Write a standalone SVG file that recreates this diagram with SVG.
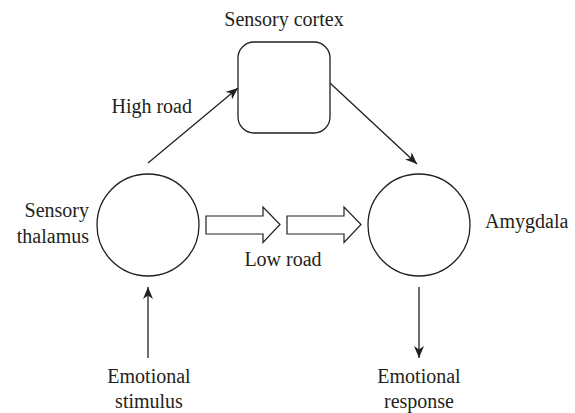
<svg xmlns="http://www.w3.org/2000/svg" width="575" height="413" viewBox="0 0 575 413">
<defs>
<marker id="ah" viewBox="0 0 12 10" refX="12" refY="5" markerWidth="12" markerHeight="10" markerUnits="userSpaceOnUse" orient="auto">
<path d="M0,0 L12,5 L0,10 L3.5,5 Z" fill="#231f20"/>
</marker>
</defs>
<style>
.n{fill:#fff;stroke:#231f20;stroke-width:1.3}
.t{font-family:"Liberation Serif",serif;font-size:20px;fill:#231f20}
.c{stroke:#231f20;stroke-width:1.3;fill:none}
.b{fill:#fff;stroke:#231f20;stroke-width:1.2}
</style>
<rect width="575" height="413" fill="#fff"/>
<g id="cortex">
<rect class="n" x="238" y="42" width="92" height="91" rx="16"/>
<text class="t" x="284" y="26" text-anchor="middle">Sensory cortex</text>
</g>
<g id="thalamus">
<circle class="n" cx="148" cy="225" r="51"/>
<text class="t" x="89" y="217" text-anchor="end">Sensory</text>
<text class="t" x="89" y="243" text-anchor="end">thalamus</text>
</g>
<g id="amygdala">
<circle class="n" cx="419" cy="225" r="51"/>
<text class="t" x="485" y="228">Amygdala</text>
</g>
<g id="stimulus">
<text class="t" x="149" y="383" text-anchor="middle">Emotional</text>
<text class="t" x="149" y="408" text-anchor="middle">stimulus</text>
</g>
<g id="response">
<text class="t" x="419" y="383" text-anchor="middle">Emotional</text>
<text class="t" x="419" y="408" text-anchor="middle">response</text>
</g>
<g id="connectors">
<line class="c" x1="148" y1="163" x2="238" y2="88" marker-end="url(#ah)"/>
<line class="c" x1="330" y1="83" x2="417" y2="164" marker-end="url(#ah)"/>
<line class="c" x1="148" y1="358" x2="148" y2="287" marker-end="url(#ah)"/>
<line class="c" x1="419" y1="287" x2="419" y2="358" marker-end="url(#ah)"/>
<path class="b" d="M206,216 L263,216 L263,207 L280,224.5 L263,242.5 L263,234 L206,234 Z"/>
<path class="b" d="M287,216 L344,216 L344,207 L361,224.5 L344,242.5 L344,234 L287,234 Z"/>
<text class="t" x="192" y="113" text-anchor="end">High road</text>
<text class="t" x="283" y="266" text-anchor="middle">Low road</text>
</g>
</svg>
